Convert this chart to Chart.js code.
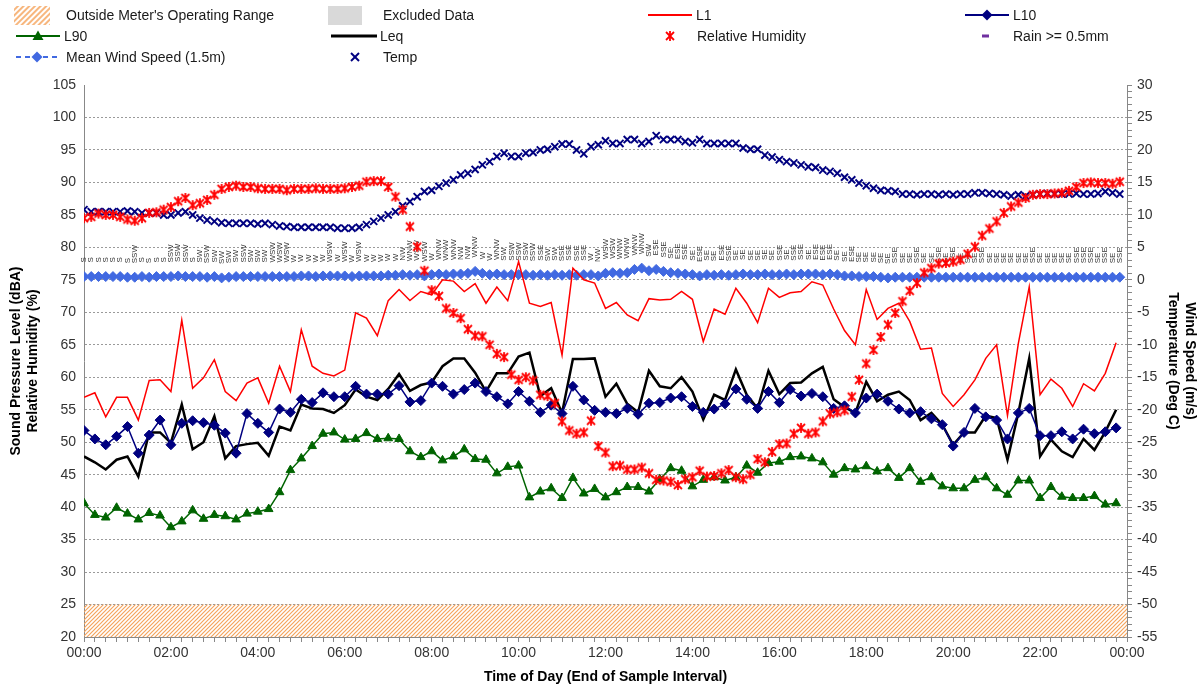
<!DOCTYPE html>
<html>
<head>
<meta charset="utf-8">
<script src="https://cdn.jsdelivr.net/npm/chart.js@4"></script>
<style>
  html, body { margin: 0; padding: 0; background: #fff; }
  #wrap { position: relative; width: 1202px; height: 687px; overflow: hidden; }
  #c { position: absolute; left: 0; top: 0; }
  .lt { position: absolute; font: 14px "Liberation Sans", Arial, sans-serif; color: #1a1a1a; line-height: 18px; white-space: nowrap; }
  svg { position: absolute; left: 0; top: 0; }
</style>
</head>
<body>
<div id="wrap">
  <canvas id="c" width="1202" height="687"></canvas>
  <svg width="1202" height="70">
    <defs>
      <pattern id="hatch" width="4" height="4" patternUnits="userSpaceOnUse" patternTransform="rotate(45)">
        <line x1="1" y1="0" x2="1" y2="4" stroke="#F5A45D" stroke-width="1.6"/>
      </pattern>
    </defs>
    <rect x="14" y="6" width="36" height="19" fill="url(#hatch)"/>
    <rect x="328" y="6" width="34" height="19" fill="#D9D9D9"/>
    <line x1="648" y1="15" x2="692" y2="15" stroke="#FF0000" stroke-width="2"/>
    <line x1="965" y1="15" x2="1009" y2="15" stroke="#000080" stroke-width="2"/>
    <polygon points="987,9.5 992.5,15 987,20.5 981.5,15" fill="#000080"/>
    <line x1="16" y1="36" x2="60" y2="36" stroke="#006400" stroke-width="2"/>
    <polygon points="38,30.5 43.5,40 32.5,40" fill="#006400"/>
    <line x1="331" y1="36" x2="377" y2="36" stroke="#000000" stroke-width="3"/>
    <g stroke="#FF0000" stroke-width="1.8">
      <line x1="666" y1="32" x2="674" y2="40"/><line x1="674" y1="32" x2="666" y2="40"/>
      <line x1="670" y1="31" x2="670" y2="41"/>
    </g>
    <rect x="982" y="34.5" width="7" height="3" fill="#7030A0"/>
    <line x1="16" y1="57" x2="58" y2="57" stroke="#4169E1" stroke-width="2" stroke-dasharray="5,4"/>
    <polygon points="37,51.5 42.5,57 37,62.5 31.5,57" fill="#4169E1"/>
    <g stroke="#000080" stroke-width="2">
      <line x1="351" y1="53" x2="359" y2="61"/><line x1="359" y1="53" x2="351" y2="61"/>
    </g>
  </svg>
  <div class="lt" style="left:66px;top:6px">Outside Meter's Operating Range</div>
  <div class="lt" style="left:383px;top:6px">Excluded Data</div>
  <div class="lt" style="left:696px;top:6px">L1</div>
  <div class="lt" style="left:1013px;top:6px">L10</div>
  <div class="lt" style="left:64px;top:27px">L90</div>
  <div class="lt" style="left:380px;top:27px">Leq</div>
  <div class="lt" style="left:697px;top:27px">Relative Humidity</div>
  <div class="lt" style="left:1013px;top:27px">Rain &gt;= 0.5mm</div>
  <div class="lt" style="left:66px;top:48px">Mean Wind Speed (1.5m)</div>
  <div class="lt" style="left:383px;top:48px">Temp</div>
</div>
<script>
// ---------- DATA ----------
// Noise levels, 15-minute intervals (96 points from 00:00)
const noiseIntervalMin = 15;
const L1 = [56.9,57.6,53.9,56.9,56.9,53.4,59.5,59.6,57.8,68.8,58.3,59.9,62.7,57.8,56.4,59.1,59.9,56.0,61.7,57.8,
  67.3,61.7,60.6,60.2,61.1,69.9,69.1,66.4,71.8,73.5,71.8,73.2,72.7,75.0,74.8,73.2,74.4,71.4,73.9,71.8,
  77.8,71.4,70.9,71.5,63.4,76.8,75.0,74.5,70.6,71.5,69.6,68.7,72.1,71.9,72.0,73.2,72.0,65.5,70.5,69.7,
  73.7,71.4,68.4,73.7,72.3,73.0,73.2,74.7,74.2,70.5,67.2,65.0,73.5,68.9,70.6,71.4,68.6,64.3,64.5,57.5,
  55.5,57.3,59.6,62.9,65.0,54.1,65.2,73.9,57.3,59.7,58.3,55.5,59.0,57.9,60.6,65.3];
const L10 = [51.8,50.5,49.6,50.9,52.4,48.3,51.1,53.4,49.6,52.9,53.3,53.0,52.6,51.4,48.3,54.4,52.9,51.5,55.1,54.6,
  56.6,56.1,57.6,57.0,57.0,58.6,57.4,57.4,57.4,58.7,56.2,56.4,59.1,58.6,57.4,58.1,59.1,57.8,57.0,55.9,
  57.8,56.3,54.6,55.7,54.4,58.6,56.5,54.9,54.6,54.4,55.2,54.3,56.0,56.1,56.8,57.0,55.5,54.6,55.1,55.9,
  58.2,56.6,55.2,57.8,56.1,58.1,57.1,57.5,57.0,55.2,55.6,54.5,56.8,57.4,56.3,55.1,54.5,54.7,53.6,52.7,
  49.4,51.5,55.2,53.9,53.4,50.5,54.5,55.2,51.0,51.0,51.6,50.5,52.0,51.3,51.6,52.2];
const L90 = [40.6,38.8,38.4,39.9,39.0,38.1,39.1,38.7,36.9,37.8,39.5,38.2,38.8,38.6,38.1,39.0,39.3,39.7,42.3,45.7,
  47.5,49.4,51.3,51.5,50.4,50.5,51.4,50.5,50.6,50.5,48.6,47.7,48.6,47.2,47.8,48.9,47.4,47.3,45.2,46.2,
  46.4,41.5,42.4,42.9,41.4,44.5,42.1,42.8,41.5,42.3,43.1,43.1,42.4,44.3,46.0,45.6,43.2,44.2,44.6,44.1,
  44.6,46.4,45.3,46.8,47.0,47.7,47.8,47.5,46.9,45.0,46.0,45.8,46.3,45.5,46.0,44.5,46.0,43.9,44.6,43.2,
  42.9,42.9,44.2,44.6,42.9,41.9,44.1,44.1,41.4,43.1,41.6,41.4,41.4,41.7,40.4,40.6];
const Leq = [47.8,46.9,45.8,47.3,47.8,44.7,51.5,51.5,49.9,55.8,48.9,50.0,54.0,47.5,49.4,49.7,49.9,47.9,52.4,51.8,
  55.8,55.2,55.1,54.5,55.7,58.1,57.0,56.5,58.2,60.5,57.9,58.8,59.2,61.7,62.9,62.9,60.7,57.8,60.6,60.6,
  63.2,63.8,57.1,58.3,54.5,62.8,62.8,62.9,57.0,59.0,55.9,54.6,61.0,58.6,58.3,60.0,57.8,53.5,57.3,56.5,
  61.2,57.3,55.2,61.0,57.4,59.1,59.2,60.6,61.6,56.6,55.4,54.5,59.3,56.3,57.3,57.8,56.5,53.4,54.5,52.7,
  49.6,51.5,51.5,54.1,53.7,47.3,54.5,62.9,47.8,50.4,48.6,47.7,50.5,48.8,51.6,55.0];

// Weather, 10-minute intervals (144 points from 00:00)
const weatherIntervalMin = 10;
const relHumidity = [84.5,84.7,85.2,85.0,85.0,84.7,84.3,84.1,84.5,85.3,85.4,85.8,86.2,87.1,87.6,86.5,86.8,87.3,88.1,89.0,
  89.3,89.5,89.3,89.3,89.1,89.0,89.0,89.0,88.8,89.0,89.0,89.0,89.1,89.0,89.0,89.0,89.1,89.3,89.5,90.1,
  90.2,90.2,89.3,87.8,85.8,83.2,80.1,76.4,73.4,72.5,70.6,69.9,69.1,67.4,66.4,66.3,65.0,63.6,63.1,60.4,
  59.6,60.0,59.5,57.3,57.1,56.0,53.2,51.8,51.3,51.5,53.3,49.4,48.4,46.3,46.4,45.8,45.8,46.1,45.2,44.2,
  44.1,43.9,43.4,44.3,44.6,45.6,44.7,44.8,45.2,45.7,44.6,44.3,45.0,47.4,46.9,48.5,49.7,49.8,51.3,52.2,
  51.3,51.5,53.2,54.4,54.6,54.9,57.0,59.6,62.1,64.2,66.2,68.1,69.9,71.7,73.3,74.5,76.1,76.8,77.5,77.6,
  77.8,78.1,79.0,80.1,81.8,82.9,84.0,85.3,86.3,86.9,87.6,88.1,88.2,88.2,88.3,88.4,88.7,89.3,89.9,90.0,
  89.9,89.9,89.8,90.1];
const temperature = [10.8,10.5,10.5,10.5,10.5,10.5,10.6,10.5,10.3,10.3,10.3,10.0,10.0,10.3,10.5,10.0,9.5,9.2,9.0,8.8,
  8.7,8.7,8.7,8.7,8.6,8.7,8.5,8.3,8.2,8.1,8.1,8.1,8.1,8.1,8.1,7.95,7.95,7.95,8.1,8.5,
  9.0,9.5,10.0,10.5,11.4,12.05,12.8,13.6,13.8,14.4,14.9,15.4,16.15,16.4,17.0,17.7,18.2,19.0,19.5,19.0,
  19.0,19.5,19.6,20.0,20.1,20.5,20.9,20.9,20.0,19.4,20.5,20.8,21.4,21.0,21.0,21.6,21.6,21.0,21.3,22.2,
  21.6,21.6,21.6,21.3,21.1,21.6,21.0,21.0,21.0,21.0,21.0,20.3,20.1,20.1,19.2,18.9,18.5,18.2,18.0,17.7,
  17.4,17.3,16.9,16.7,16.4,15.8,15.4,14.9,14.5,14.1,13.8,13.7,13.6,13.2,13.2,13.1,13.2,13.2,13.1,13.2,
  13.1,13.2,13.2,13.4,13.4,13.3,13.2,13.1,12.9,13.1,12.9,13.1,13.2,13.3,13.2,13.2,13.2,13.3,13.2,13.2,
  13.3,13.6,13.4,13.2];
const windSpeed = [0.5,0.5,0.5,0.5,0.5,0.5,0.4,0.4,0.5,0.4,0.5,0.5,0.5,0.6,0.5,0.5,0.5,0.4,0.5,0.3,
  0.4,0.5,0.5,0.5,0.5,0.5,0.5,0.5,0.5,0.5,0.6,0.6,0.5,0.6,0.6,0.6,0.6,0.5,0.6,0.6,
  0.6,0.6,0.7,0.7,0.8,0.7,0.8,0.6,0.8,0.9,0.8,0.9,0.9,1.0,1.3,1.0,0.8,0.9,0.8,0.8,
  0.8,0.8,0.7,0.8,0.7,0.8,0.7,0.8,0.7,0.8,0.8,0.6,1.0,1.1,1.0,1.1,1.6,1.8,1.4,1.6,
  1.3,1.1,1.0,0.9,0.8,0.6,0.8,0.7,0.8,0.7,0.8,0.9,0.8,0.8,0.9,0.8,0.8,0.9,0.8,0.9,
  0.9,0.9,0.8,0.9,0.8,0.6,0.6,0.5,0.5,0.5,0.4,0.3,0.4,0.4,0.4,0.4,0.4,0.4,0.4,0.4,
  0.4,0.4,0.4,0.4,0.4,0.4,0.4,0.4,0.4,0.4,0.4,0.4,0.4,0.4,0.4,0.4,0.4,0.4,0.4,0.4,
  0.4,0.4,0.4,0.4];
const windDir = ['S','S','S','S','S','S','S','SSW','S','S','S','S','SSW','SSW','SSW','S',
  'SW','SSW','SW','SW','SW','SW','SSW','SW','SW','SW',
  'WSW','WSW','WSW','W','W','W','W','W','WSW','W','WSW','W','WSW','W','W','W','W','W',
  'NW','WNW','WSW','WSW','W','WNW','WNW','WNW','NW','NW','WNW','W','W','WNW',
  'SW','SSW','SSW','SSW','SSW','SSE','SW','SW','SSE','SSE','SSE','SSE',
  'W','NW','WSW','WSW','WNW','WNW','WNW','WNW','SW',
  'ESE','SSE','SE','ESE','SSE','SE','ESE','SE','SE','ESE','SSE','SE','SE','SE','SE','SE','SE','SSE','SE','SSE',
  'SSE','SE','ESE','ESE','ESE','SE','SE','ESE','SE','SE','SE','SE','SE','SSE','SE','SE','SSE',
  'SE','SE','SSE','SE','SSE','SE','SE','SE','SSE','SE','SE','SE','SE','SE','SE','SSE','SE','SE','SE','SE',
  'SE','SSE','SSE','SSE','SE','SSE','SE','SSE'];
const hourLabels = ['00:00','02:00','04:00','06:00','08:00','10:00','12:00','14:00','16:00','18:00','20:00','22:00','00:00'];
const meterRangeLimit = 25;

// ---------- BUILD ----------
const noisePts = arr => arr.map((v, i) => ({x: i * noiseIntervalMin, y: v}));
const wxPts = arr => arr.map((v, j) => ({x: j * weatherIntervalMin, y: v}));

const pc = document.createElement('canvas');
pc.width = 4; pc.height = 4;
const pctx = pc.getContext('2d');
pctx.strokeStyle = '#F5A45D';
pctx.lineWidth = 1.2;
pctx.beginPath();
pctx.moveTo(-1, 5); pctx.lineTo(5, -1);
pctx.moveTo(-1, 1); pctx.lineTo(1, -1);
pctx.moveTo(3, 5); pctx.lineTo(5, 3);
pctx.stroke();
const hatch = pctx.createPattern(pc, 'repeat');

// RH marker: X with vertical bar
const rhMarker = document.createElement('canvas');
rhMarker.width = 12; rhMarker.height = 12;
(function () {
  const m = rhMarker.getContext('2d');
  m.strokeStyle = '#FF0000';
  m.lineWidth = 1.8;
  m.beginPath();
  m.moveTo(2, 2); m.lineTo(10, 10);
  m.moveTo(10, 2); m.lineTo(2, 10);
  m.moveTo(6, 1); m.lineTo(6, 11);
  m.stroke();
})();

const FONT = '"Liberation Sans", Arial, sans-serif';
Chart.defaults.font.family = FONT;
Chart.defaults.font.size = 14;
Chart.defaults.color = '#333';

const WIND_INDEX = 6;
const windLabels = {
  id: 'windLabels',
  beforeDatasetsDraw(chart) {
    const meta = chart.getDatasetMeta(WIND_INDEX);
    const ctx = chart.ctx;
    ctx.save();
    ctx.font = '8px ' + FONT;
    ctx.fillStyle = '#333';
    ctx.textAlign = 'left';
    ctx.textBaseline = 'middle';
    meta.data.forEach((pt, j) => {
      ctx.save();
      ctx.translate(pt.x, pt.y - 14);
      ctx.rotate(-Math.PI / 2);
      ctx.fillText(windDir[j], 0, 0);
      ctx.restore();
    });
    ctx.restore();
  }
};

new Chart(document.getElementById('c'), {
  type: 'line',
  data: {
    datasets: [
      { label: 'Relative Humidity', data: wxPts(relHumidity), yAxisID: 'y', showLine: false,
        pointStyle: rhMarker, pointRadius: 6, borderColor: '#FF0000', backgroundColor: '#FF0000', order: 1 },
      { label: 'Temp', data: wxPts(temperature), yAxisID: 'y2', showLine: false,
        pointStyle: 'crossRot', pointRadius: 5, borderWidth: 2, borderColor: '#000080', backgroundColor: '#000080', order: 2 },
      { label: 'L90', data: noisePts(L90), yAxisID: 'y', borderColor: '#006400', backgroundColor: '#006400',
        borderWidth: 1.5, pointStyle: 'triangle', pointRadius: 5, pointBorderWidth: 1, order: 3 },
      { label: 'L10', data: noisePts(L10), yAxisID: 'y', borderColor: '#000080', backgroundColor: '#000080',
        borderWidth: 1.5, pointStyle: 'rectRot', pointRadius: 5, pointBorderWidth: 1, order: 4 },
      { label: 'Leq', data: noisePts(Leq), yAxisID: 'y', borderColor: '#000000', borderWidth: 2.5, pointRadius: 0, order: 5 },
      { label: 'L1', data: noisePts(L1), yAxisID: 'y', borderColor: '#FF0000', borderWidth: 1.5, pointRadius: 0, order: 6 },
      { label: 'Mean Wind Speed (1.5m)', data: wxPts(windSpeed), yAxisID: 'y2', borderColor: '#4169E1', backgroundColor: '#4169E1',
        borderWidth: 1.5, borderDash: [4, 3], pointStyle: 'rectRot', pointRadius: 5, pointBorderWidth: 1, order: 7 },
      { label: "Outside Meter's Operating Range", data: [{x: 0, y: meterRangeLimit}, {x: 1440, y: meterRangeLimit}], yAxisID: 'y',
        borderWidth: 0, borderColor: 'rgba(0,0,0,0)', pointRadius: 0, fill: 'start', backgroundColor: hatch, order: 20 }
    ]
  },
  options: {
    responsive: false,
    animation: false,
    devicePixelRatio: 1,
    layout: { padding: { top: 85, left: 0, right: 0, bottom: 0 } },
    plugins: { legend: { display: false }, tooltip: { enabled: false } },
    scales: {
      x: {
        type: 'linear', min: 0, max: 1440,
        afterFit: s => { s.height = 50; },
        ticks: { stepSize: 15, autoSkip: false, maxRotation: 0, minRotation: 0, padding: 3, color: '#333',
          callback: v => (v % 120 === 0 ? hourLabels[v / 120] : '') },
        grid: { drawOnChartArea: false, drawTicks: true, tickLength: 5, color: '#888' },
        border: { display: true, color: '#888' },
        title: { display: true, text: 'Time of Day (End of Sample Interval)', font: { size: 14, weight: 'bold' }, color: '#000', padding: { top: 0, bottom: 1 } }
      },
      y: {
        position: 'left', min: 20, max: 105,
        afterFit: s => { s.width = 84; },
        ticks: { stepSize: 5, padding: 8, color: '#333' },
        grid: { drawTicks: false, color: ctx => (ctx.tick && (ctx.tick.value === 105 || ctx.tick.value === 20) ? 'rgba(0,0,0,0)' : '#9a9a9a'), lineWidth: 1 },
        border: { display: true, color: '#888', dash: [2, 2] },
        title: { display: true, text: ['Sound Pressure Level (dBA)', 'Relative Humidity (%)'], font: { size: 14, weight: 'bold' }, color: '#000', padding: { top: 8, bottom: 0 } }
      },
      y2: {
        position: 'right', min: -55, max: 30,
        afterFit: s => { s.width = 75; },
        ticks: { stepSize: 1, autoSkip: false, padding: 5, color: '#333',
          callback: v => (v % 5 === 0 ? String(v) : '') },
        grid: { drawOnChartArea: false, drawTicks: true, tickLength: 5, color: '#888' },
        border: { display: true, color: '#888' },
        title: { display: true, text: ['Wind Speed (m/s)', 'Temperature (Deg C)'], font: { size: 14, weight: 'bold' }, color: '#000', padding: { top: 4, bottom: 0 } }
      }
    }
  },
  plugins: [windLabels]
});
</script>
</body>
</html>
